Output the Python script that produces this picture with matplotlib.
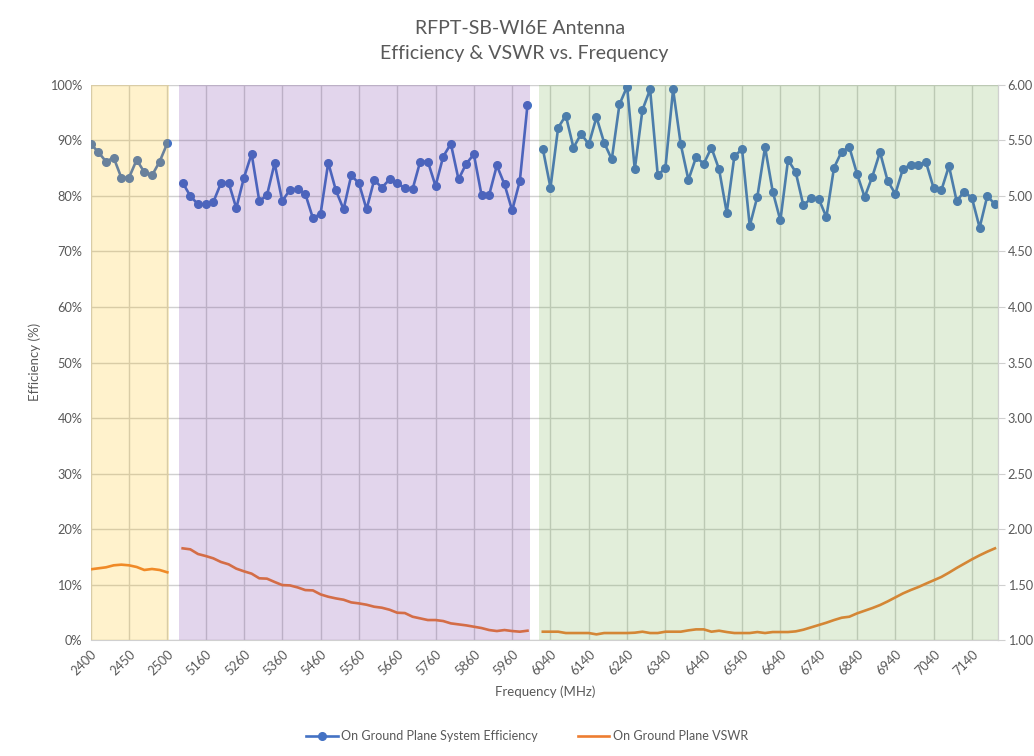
import numpy as np
import matplotlib
matplotlib.use("Agg")
import matplotlib.pyplot as plt
from matplotlib.lines import Line2D

plt.rcParams['font.family'] = ['Lato', 'DejaVu Sans']

# %% data -- категории: 2.4 ГГц (шаг 10), пусто, 5 ГГц (шаг 20), пусто, 6 ГГц (шаг 20)
freq_24 = list(range(2400, 2501, 10))
freq_5g = list(range(5100, 6001, 20))
freq_6g = list(range(6020, 7201, 20))

eff_24 = [89.4, 87.9, 86.2, 86.9, 83.3, 83.3, 86.5, 84.3, 83.7, 86.2, 89.5]
eff_5g = [82.4, 80.0, 78.5, 78.5, 78.9, 82.3, 82.4, 77.8, 83.3, 87.6,
          79.1, 80.1, 85.9, 79.1, 81.1, 81.2, 80.4, 76.0, 76.8, 86.0,
          81.0, 77.6, 83.7, 82.3, 77.6, 82.9, 81.5, 83.0, 82.3, 81.4,
          81.2, 86.2, 86.2, 81.8, 87.1, 89.4, 83.0, 85.8, 87.5, 80.2,
          80.2, 85.5, 82.1, 77.4, 82.7, 96.4]
eff_6g = [88.5, 81.5, 92.3, 94.5, 88.7, 91.2, 89.3, 94.2, 89.6, 86.6,
          96.5, 99.7, 84.8, 95.5, 99.2, 83.7, 85.1, 99.2, 89.3, 82.9,
          87.0, 85.8, 88.7, 84.8, 77.0, 87.2, 88.4, 74.6, 79.9, 88.8,
          80.8, 75.6, 86.5, 84.3, 78.3, 79.6, 79.5, 76.2, 85.1, 88.0,
          88.8, 84.0, 79.8, 83.5, 87.9, 82.7, 80.4, 84.9, 85.6, 85.6,
          86.1, 81.4, 81.0, 85.4, 79.1, 80.8, 79.6, 74.3, 80.0, 78.5]

vswr_24 = [1.637, 1.646, 1.655, 1.673, 1.679, 1.673, 1.658, 1.631, 1.640, 1.631, 1.610]
vswr_5g = [1.826, 1.817, 1.775, 1.757, 1.736, 1.703, 1.682, 1.643, 1.619, 1.598,
           1.556, 1.553, 1.523, 1.495, 1.492, 1.474, 1.450, 1.447, 1.411, 1.390,
           1.375, 1.363, 1.339, 1.330, 1.318, 1.300, 1.291, 1.273, 1.246, 1.243,
           1.210, 1.195, 1.180, 1.180, 1.171, 1.150, 1.141, 1.132, 1.120, 1.108,
           1.090, 1.081, 1.090, 1.081, 1.075, 1.084]
vswr_6g = [1.075, 1.075, 1.075, 1.063, 1.063, 1.063, 1.063, 1.051, 1.063, 1.063,
           1.063, 1.063, 1.066, 1.075, 1.063, 1.063, 1.075, 1.075, 1.075, 1.087,
           1.096, 1.096, 1.075, 1.084, 1.072, 1.063, 1.063, 1.063, 1.072, 1.063,
           1.072, 1.072, 1.072, 1.078, 1.093, 1.114, 1.135, 1.156, 1.180, 1.201,
           1.210, 1.240, 1.264, 1.288, 1.315, 1.348, 1.384, 1.420, 1.450, 1.477,
           1.508, 1.538, 1.568, 1.607, 1.649, 1.688, 1.727, 1.763, 1.796, 1.826]

# %% сборка категорий с пустыми разделителями
labels = [str(f) for f in freq_24] + [""] + [str(f) for f in freq_5g] + [""] + [str(f) for f in freq_6g]
eff = eff_24 + [np.nan] + eff_5g + [np.nan] + eff_6g
vswr = vswr_24 + [np.nan] + vswr_5g + [np.nan] + vswr_6g
x = np.arange(len(labels))

n24 = len(freq_24)
n5 = len(freq_5g)
bands = [
    (-0.5, n24 - 0.8, "#FFC000"),
    (n24 + 0.5, n24 + n5 + 0.3, "#7030A0"),
    (n24 + n5 + 1.5, len(labels) - 0.5, "#70AD47"),
]

grey = "#595959"
grid_c = "#D0D0D0"

fig = plt.figure(figsize=(10.34, 7.56), dpi=100)
ax = fig.add_axes([0.0877, 0.1534, 0.8775, 0.7342])
ax2 = ax.twinx()

ax.plot(x, eff, color="#4472C4", lw=1.9, marker="o", ms=5.5, zorder=3)
ax2.plot(x, vswr, color="#ED7D31", lw=1.9, zorder=3)

# полупрозрачные полосы поверх линий, как в Excel
for x0, x1, c in bands:
    ax2.axvspan(x0, x1, color=c, alpha=0.2, lw=0, zorder=5)

ax.set_xlim(0, 118.4)
ax.set_ylim(0, 100)
ax2.set_ylim(1, 6)

ax.set_yticks(np.arange(0, 101, 10))
ax.set_yticklabels([f"{v}%" for v in range(0, 101, 10)])
ax2.set_yticks(np.arange(1, 6.01, 0.5))
ax2.set_yticklabels([f"{v:.2f}" for v in np.arange(1, 6.01, 0.5)])

tick_pos = x[::5]
ax.set_xticks(tick_pos)
ax.set_xticklabels([labels[i] for i in tick_pos], rotation=45, ha="right",
                   rotation_mode="anchor")

ax.grid(True, color=grid_c, lw=1, zorder=0)
ax.set_axisbelow(True)

for a in (ax, ax2):
    for s in ("top", "left"):
        a.spines[s].set_visible(False)
    a.spines["bottom"].set_color(grid_c)
    a.spines["right"].set_color(grid_c)
ax2.spines["bottom"].set_visible(False)

ax.tick_params(axis="both", length=0, labelsize=9.2, colors=grey, pad=6)
ax2.tick_params(axis="y", length=5, color=grid_c, labelsize=9.2, labelcolor=grey, pad=2)

fig.text(0.503, 1 - 28 / 756, "RFPT-SB-WI6E Antenna", ha="center", va="center",
         fontsize=14, color=grey)
fig.text(0.507, 1 - 53 / 756, "Efficiency & VSWR vs. Frequency", ha="center", va="center",
         fontsize=14, color=grey)
fig.text(35 / 1034, 1 - 362 / 756, "Efficiency (%)", rotation=90, ha="center",
         va="center", fontsize=9.5, color=grey)
fig.text(545 / 1034, 1 - 692 / 756, "Frequency (MHz)", ha="center", va="center",
         fontsize=9.5, color=grey)

handles = [
    Line2D([], [], color="#4472C4", lw=1.9, marker="o", ms=5.5, markevery=[1],
           label="On Ground Plane System Efficiency"),
    Line2D([], [], color="#ED7D31", lw=1.9, label="On Ground Plane VSWR"),
]
fig.legend(handles=handles, loc="center", bbox_to_anchor=(0.51, 0.026), ncol=2,
           frameon=False, fontsize=9, labelcolor=grey, columnspacing=3.2,
           handlelength=2.5, handletextpad=0.3)

fig.savefig("out.png", dpi=100)
